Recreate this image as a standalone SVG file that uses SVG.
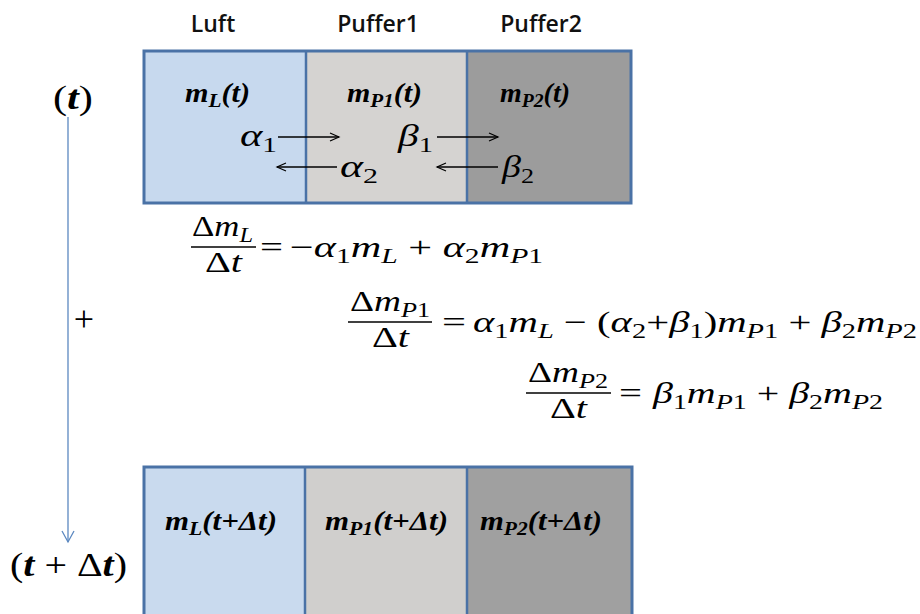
<svg xmlns="http://www.w3.org/2000/svg" width="920" height="614" viewBox="0 0 920 614">
<defs>
<style>
.hdr{font-family:"Open Sans","Liberation Sans",sans-serif;font-weight:600;font-size:23px;fill:#111;text-anchor:middle}
.lbl{font-family:"Liberation Serif",serif;font-weight:bold;font-style:italic;font-size:27px;fill:#000}
.lsub{font-size:19px}
.math{font-family:"Liberation Serif",serif;font-size:30px;fill:#000}
.it{font-style:italic}
.sub{font-size:21px}
.bold{font-weight:bold;font-style:italic}
.frac{stroke:#000;stroke-width:1.5}
.border{fill:none;stroke:#4a72a6;stroke-width:3}
.div{stroke:#4a72a6;stroke-width:2.5}
.flow{stroke:#000;stroke-width:1.3;fill:none}
.time{stroke:#5b88c0;stroke-width:1.3;fill:none}
</style>
<marker id="ah" markerUnits="userSpaceOnUse" markerWidth="12" markerHeight="12" refX="10" refY="5" orient="auto">
<path d="M1,1 L10,5 L1,9" fill="none" stroke="#000" stroke-width="1.2"/>
</marker>
<marker id="ahb" markerUnits="userSpaceOnUse" markerWidth="16" markerHeight="16" refX="12" refY="7" orient="auto">
<path d="M1,1 L12,7 L1,13" fill="none" stroke="#5b88c0" stroke-width="1.3"/>
</marker>
</defs>
<rect width="920" height="614" fill="#fff"/>

<g id="headers">
<text class="hdr" x="213" y="32">Luft</text>
<text class="hdr" x="378" y="32">Puffer1</text>
<text class="hdr" x="541" y="32">Puffer2</text>
</g>

<g id="top-state">
<g id="top-luft">
<rect x="144" y="51" width="162" height="152" fill="#c7d9ee"/>
<text class="lbl" x="185" y="102" textLength="65" lengthAdjust="spacingAndGlyphs">m<tspan class="lsub" dy="5">L</tspan><tspan dy="-5">(t)</tspan></text>
</g>
<g id="top-puffer1">
<rect x="306" y="51" width="161" height="152" fill="#d5d3d1"/>
<text class="lbl" x="347" y="102" textLength="75" lengthAdjust="spacingAndGlyphs">m<tspan class="lsub" dy="5">P1</tspan><tspan dy="-5">(t)</tspan></text>
</g>
<g id="top-puffer2">
<rect x="467" y="51" width="164" height="152" fill="#9c9c9c"/>
<text class="lbl" x="500" y="102" textLength="70" lengthAdjust="spacingAndGlyphs">m<tspan class="lsub" dy="5">P2</tspan><tspan dy="-5">(t)</tspan></text>
</g>
<rect class="border" x="144" y="51" width="487" height="152"/>
<line class="div" x1="306" y1="51" x2="306" y2="203"/>
<line class="div" x1="467" y1="51" x2="467" y2="203"/>
<g id="rates" class="math">
<text x="240" y="146" textLength="37" lengthAdjust="spacingAndGlyphs" style="font-size:32px"><tspan class="it">α</tspan><tspan style="font-size:22px" dy="6">1</tspan></text>
<text x="398" y="146" textLength="35" lengthAdjust="spacingAndGlyphs" style="font-size:32px"><tspan class="it">β</tspan><tspan style="font-size:22px" dy="6">1</tspan></text>
<text x="340" y="177" textLength="38" lengthAdjust="spacingAndGlyphs" style="font-size:32px"><tspan class="it">α</tspan><tspan style="font-size:22px" dy="6">2</tspan></text>
<text x="502" y="177" textLength="32" lengthAdjust="spacingAndGlyphs" style="font-size:32px"><tspan class="it">β</tspan><tspan style="font-size:22px" dy="6">2</tspan></text>
</g>
</g>

<g id="bottom-state">
<g id="bottom-luft">
<rect x="144" y="467" width="161" height="150" fill="#c9daee"/>
<text class="lbl" x="165" y="530" textLength="112" lengthAdjust="spacingAndGlyphs">m<tspan class="lsub" dy="5">L</tspan><tspan dy="-5">(t+Δt)</tspan></text>
</g>
<g id="bottom-puffer1">
<rect x="305" y="467" width="162" height="150" fill="#d0cfcd"/>
<text class="lbl" x="325" y="530" textLength="123" lengthAdjust="spacingAndGlyphs">m<tspan class="lsub" dy="5">P1</tspan><tspan dy="-5">(t+Δt)</tspan></text>
</g>
<g id="bottom-puffer2">
<rect x="467" y="467" width="165" height="150" fill="#a0a0a0"/>
<text class="lbl" x="480" y="530" textLength="122" lengthAdjust="spacingAndGlyphs">m<tspan class="lsub" dy="5">P2</tspan><tspan dy="-5">(t+Δt)</tspan></text>
</g>
<rect class="border" x="144" y="467" width="488" height="152"/>
<line class="div" x1="305" y1="467" x2="305" y2="614"/>
<line class="div" x1="467" y1="467" x2="467" y2="614"/>
</g>

<g id="connectors">
<line class="flow" x1="278" y1="137" x2="339" y2="137" marker-end="url(#ah)"/>
<line class="flow" x1="437" y1="137" x2="498" y2="137" marker-end="url(#ah)"/>
<line class="flow" x1="337" y1="167" x2="277" y2="167" marker-end="url(#ah)"/>
<line class="flow" x1="498" y1="167" x2="437" y2="167" marker-end="url(#ah)"/>
<line class="time" x1="68" y1="117" x2="68" y2="542" marker-end="url(#ahb)"/>
</g>

<g id="time-labels" class="math">
<text x="53" y="109" textLength="40" lengthAdjust="spacingAndGlyphs" style="font-size:34px">(<tspan class="bold">t</tspan>)</text>
<text x="84" y="331" text-anchor="middle" style="font-size:36px">+</text>
<text x="10" y="576" textLength="117" lengthAdjust="spacingAndGlyphs" style="font-size:33px">(<tspan class="bold">t</tspan> + Δ<tspan class="bold">t</tspan>)</text>
</g>

<g id="eq1" class="math">
<text x="192" y="236" textLength="61" lengthAdjust="spacingAndGlyphs">Δ<tspan class="it">m</tspan><tspan class="sub it" dy="6">L</tspan></text>
<line class="frac" x1="191" y1="247" x2="256" y2="247"/>
<text x="205" y="272" textLength="37" lengthAdjust="spacingAndGlyphs">Δ<tspan class="it">t</tspan></text>
<text x="260" y="257" textLength="23" lengthAdjust="spacingAndGlyphs">=</text>
<text x="290" y="257" textLength="253" lengthAdjust="spacingAndGlyphs">−<tspan class="it">α</tspan><tspan class="sub" dy="6">1</tspan><tspan class="it" dy="-6">m</tspan><tspan class="sub it" dy="6">L</tspan><tspan dy="-6"> + </tspan><tspan class="it">α</tspan><tspan class="sub" dy="6">2</tspan><tspan class="it" dy="-6">m</tspan><tspan class="sub it" dy="6">P</tspan><tspan class="sub">1</tspan></text>
</g>

<g id="eq2" class="math">
<text x="350" y="311" textLength="80" lengthAdjust="spacingAndGlyphs">Δ<tspan class="it">m</tspan><tspan class="sub it" dy="6">P</tspan><tspan class="sub">1</tspan></text>
<line class="frac" x1="348" y1="322" x2="432" y2="322"/>
<text x="372" y="347" textLength="37" lengthAdjust="spacingAndGlyphs">Δ<tspan class="it">t</tspan></text>
<text x="442" y="332" textLength="24" lengthAdjust="spacingAndGlyphs">=</text>
<text x="473" y="332" textLength="444" lengthAdjust="spacingAndGlyphs"><tspan class="it">α</tspan><tspan class="sub" dy="6">1</tspan><tspan class="it" dy="-6">m</tspan><tspan class="sub it" dy="6">L</tspan><tspan dy="-6"> − (</tspan><tspan class="it">α</tspan><tspan class="sub" dy="6">2</tspan><tspan dy="-6">+</tspan><tspan class="it">β</tspan><tspan class="sub" dy="6">1</tspan><tspan dy="-6">)</tspan><tspan class="it">m</tspan><tspan class="sub it" dy="6">P</tspan><tspan class="sub">1</tspan><tspan dy="-6"> + </tspan><tspan class="it">β</tspan><tspan class="sub" dy="6">2</tspan><tspan class="it" dy="-6">m</tspan><tspan class="sub it" dy="6">P</tspan><tspan class="sub">2</tspan></text>
</g>

<g id="eq3" class="math">
<text x="528" y="382" textLength="80" lengthAdjust="spacingAndGlyphs">Δ<tspan class="it">m</tspan><tspan class="sub it" dy="6">P</tspan><tspan class="sub">2</tspan></text>
<line class="frac" x1="526" y1="393" x2="611" y2="393"/>
<text x="550" y="418" textLength="37" lengthAdjust="spacingAndGlyphs">Δ<tspan class="it">t</tspan></text>
<text x="619" y="403" textLength="23" lengthAdjust="spacingAndGlyphs">=</text>
<text x="653" y="403" textLength="230" lengthAdjust="spacingAndGlyphs"><tspan class="it">β</tspan><tspan class="sub" dy="6">1</tspan><tspan class="it" dy="-6">m</tspan><tspan class="sub it" dy="6">P</tspan><tspan class="sub">1</tspan><tspan dy="-6"> + </tspan><tspan class="it">β</tspan><tspan class="sub" dy="6">2</tspan><tspan class="it" dy="-6">m</tspan><tspan class="sub it" dy="6">P</tspan><tspan class="sub">2</tspan></text>
</g>
</svg>
